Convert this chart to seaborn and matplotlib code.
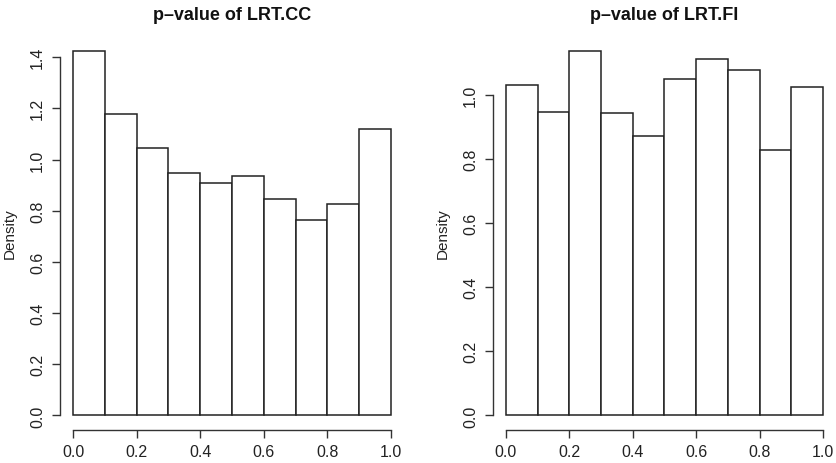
import matplotlib
matplotlib.use("Agg")
import matplotlib.pyplot as plt
import seaborn as sns
import numpy as np
import pandas as pd

sns.set_style("white")
plt.rcParams['font.family'] = ['Liberation Sans', 'DejaVu Sans']

bin_edges = [0.0, 0.1, 0.2, 0.3, 0.4, 0.5, 0.6, 0.7, 0.8, 0.9, 1.0]
bin_centers = [0.05, 0.15, 0.25, 0.35, 0.45, 0.55, 0.65, 0.75, 0.85, 0.95]
density_cc = [1.426, 1.178, 1.045, 0.948, 0.909, 0.934, 0.844, 0.762, 0.828, 1.118]
density_fi = [1.031, 0.947, 1.137, 0.941, 0.872, 1.047, 1.112, 1.078, 0.826, 1.025]
titles = ["p–value of LRT.CC", "p–value of LRT.FI"]
xticks = [0.0, 0.2, 0.4, 0.6, 0.8, 1.0]
yticks_cc = [0.0, 0.2, 0.4, 0.6, 0.8, 1.0, 1.2, 1.4]
yticks_fi = [0.0, 0.2, 0.4, 0.6, 0.8, 1.0]

fig = plt.figure(figsize=(8.36, 4.64), dpi=100)
W, H = 836, 464
ax1 = fig.add_axes([60.3 / W, 33 / H, 343.4 / W, 394 / H])
ax2 = fig.add_axes([493.3 / W, 33 / H, 342.4 / W, 394 / H])

for ax, dens, title, yt in [(ax1, density_cc, titles[0], yticks_cc),
                            (ax2, density_fi, titles[1], yticks_fi)]:
    df = pd.DataFrame({"p": bin_centers, "d": dens})
    sns.histplot(data=df, x="p", weights="d", bins=bin_edges, stat="count",
                 color="white", edgecolor="#222222", linewidth=1.1, alpha=1,
                 ax=ax)
    ymax = max(dens)
    ax.set_xlim(-0.04, 1.04)
    ax.set_ylim(-0.04 * ymax, 1.04 * ymax)
    for s in ["top", "right"]:
        ax.spines[s].set_visible(False)
    for s in ["left", "bottom"]:
        ax.spines[s].set_visible(True)
        ax.spines[s].set_color("#333333")
        ax.spines[s].set_linewidth(1.0)
    ax.spines["left"].set_bounds(0, yt[-1])
    ax.spines["bottom"].set_bounds(0, 1)
    ax.set_xticks(xticks)
    ax.set_xticklabels([f"{v:.1f}" for v in xticks])
    ax.set_yticks(yt)
    ax.set_yticklabels([f"{v:.1f}" for v in yt], rotation=90, va="center")
    ax.tick_params(axis="both", direction="out", length=6, width=1.0,
                   color="#333333", labelsize=11.5, labelcolor="#222222",
                   left=True, bottom=True)
    ax.tick_params(axis="x", pad=4)
    ax.tick_params(axis="y", pad=5)
    ax.set_xlabel("")
    ax.set_ylabel("Density", fontsize=11, color="#222222")
    ax.yaxis.set_label_coords(-0.128, 0.5)
    ax.set_title(title, fontsize=13, fontweight="bold", pad=12, color="#111111")
    ax.grid(False)

fig.savefig("out.png", dpi=100, facecolor="white")
